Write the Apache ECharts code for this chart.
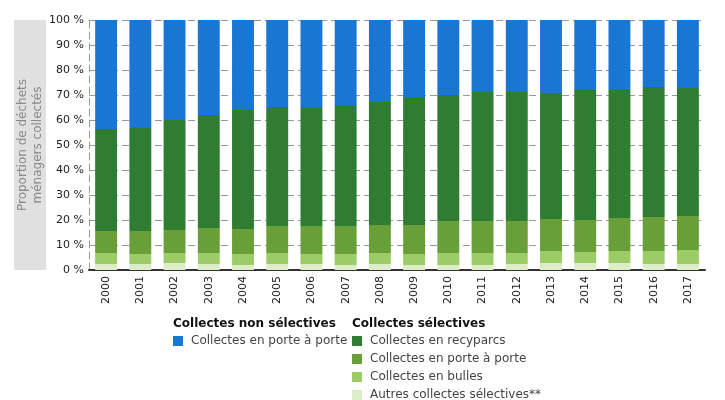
<!DOCTYPE html>
<html>
<head>
<meta charset="utf-8">
<script src="https://cdn.jsdelivr.net/npm/echarts@6/dist/echarts.min.js"></script>
<style>
  html, body { margin: 0; padding: 0; background: #fff; }
  #chart { width: 725px; height: 400px; }
</style>
</head>
<body>
<div id="chart"></div>
<script>
// années
const years = ['2000', '2001', '2002', '2003', '2004', '2005', '2006', '2007', '2008',
  '2009', '2010', '2011', '2012', '2013', '2014', '2015', '2016', '2017']

// parts en %
const autres = [2.4, 2.4, 2.8, 2.4, 2.0, 2.4, 2.4, 2.0, 2.4, 2.0, 2.0, 2.0, 2.4, 2.8, 2.8, 2.8, 2.4, 2.4]
const bulles = [4.4, 4.0, 4.0, 4.4, 4.4, 4.4, 4.0, 4.4, 4.4, 4.4, 4.8, 4.8, 4.4, 4.8, 4.4, 4.8, 5.2, 5.6]
const porteSel = [8.8, 9.2, 9.2, 10.0, 10.0, 10.8, 11.2, 11.2, 11.2, 11.6, 12.8, 12.8, 12.8, 12.8, 12.8, 13.2, 13.6, 13.6]
const recyparcs = [40.8, 41.2, 44.0, 45.2, 47.6, 47.6, 47.2, 48.0, 49.2, 50.8, 50.4, 51.6, 51.6, 50.4, 52.0, 51.2, 52.0, 51.2]
const nonSel = [43.6, 43.2, 40.0, 38.0, 36.0, 34.8, 35.2, 34.4, 32.8, 31.2, 30.0, 28.8, 28.8, 29.2, 28.0, 28.0, 26.8, 27.2]

const yTicks = [0, 10, 20, 30, 40, 50, 60, 70, 80, 90, 100]

const labels = {
  nonsel: 'Collectes en porte à porte',
  recyparcs: 'Collectes en recyparcs',
  porte: 'Collectes en porte à porte',
  bulles: 'Collectes en bulles',
  autres: 'Autres collectes sélectives**'
}

const FONT = 'DejaVu Sans'
const chart = echarts.init(document.getElementById('chart'))

const mkBar = (name, data, color) => ({
  name,
  type: 'bar',
  stack: 'total',
  data,
  barCategoryGap: '36%',
  itemStyle: { color },
  emphasis: { disabled: true }
})

const legendText = { fontSize: 12, color: '#444', fontFamily: FONT, lineHeight: 14, padding: [0, 0, 0, 3] }

const option = {
  animation: false,
  textStyle: { fontFamily: FONT },
  title: [
    {
      text: 'Collectes non sélectives',
      left: 168, top: 313,
      textStyle: { fontSize: 12, fontWeight: 'bold', color: '#111', fontFamily: FONT }
    },
    {
      text: 'Collectes sélectives',
      left: 347, top: 313,
      textStyle: { fontSize: 12, fontWeight: 'bold', color: '#111', fontFamily: FONT }
    }
  ],
  // bandeau gris + titre de l'axe Y
  graphic: [
    {
      type: 'rect',
      z: -10,
      shape: { x: 14, y: 20, width: 32, height: 250 },
      style: { fill: '#e0e0e0' },
      silent: true
    },
    {
      type: 'text',
      x: 30, y: 145,
      rotation: Math.PI / 2,
      silent: true,
      style: {
        text: 'Proportion de déchets\nménagers collectés',
        fill: '#888',
        font: '12px "DejaVu Sans"',
        lineHeight: 15,
        align: 'center',
        verticalAlign: 'middle'
      }
    }
  ],
  legend: [
    {
      data: ['nonsel'],
      left: 173, top: 334, padding: 0,
      orient: 'vertical',
      itemWidth: 10, itemHeight: 10, itemGap: 4,
      icon: 'rect',
      formatter: n => labels[n],
      textStyle: legendText
    },
    {
      data: ['recyparcs', 'porte', 'bulles', 'autres'],
      left: 352, top: 334, padding: 0,
      height: 80,
      orient: 'vertical',
      itemWidth: 10, itemHeight: 10, itemGap: 4,
      icon: 'rect',
      formatter: n => labels[n],
      textStyle: legendText
    }
  ],
  grid: { left: 89, right: 20, top: 20, bottom: 130, outerBoundsMode: 'none' },
  xAxis: {
    type: 'category',
    data: years,
    axisLine: { lineStyle: { color: '#333', width: 2 } },
    axisTick: { inside: true, length: 6, lineStyle: { color: '#222', width: 1.5 } },
    axisLabel: { rotate: 90, fontSize: 11, color: '#222', margin: 6 }
  },
  yAxis: {
    type: 'value',
    min: 0, max: 100, interval: 10,
    axisLine: { show: true, lineStyle: { color: '#999', type: [7, 4] } },
    axisTick: { show: false },
    axisLabel: {
      fontSize: 11, color: '#222', margin: 5,
      formatter: v => yTicks.includes(v) ? v + ' %' : ''
    },
    splitLine: { lineStyle: { color: '#999', type: [7, 4] } }
  },
  series: [
    mkBar('autres', autres, '#dcedc8'),
    mkBar('bulles', bulles, '#9ccc65'),
    mkBar('porte', porteSel, '#689f38'),
    mkBar('recyparcs', recyparcs, '#2e7d32'),
    mkBar('nonsel', nonSel, '#1976d2')
  ]
}

chart.setOption(option)
</script>
</body>
</html>
